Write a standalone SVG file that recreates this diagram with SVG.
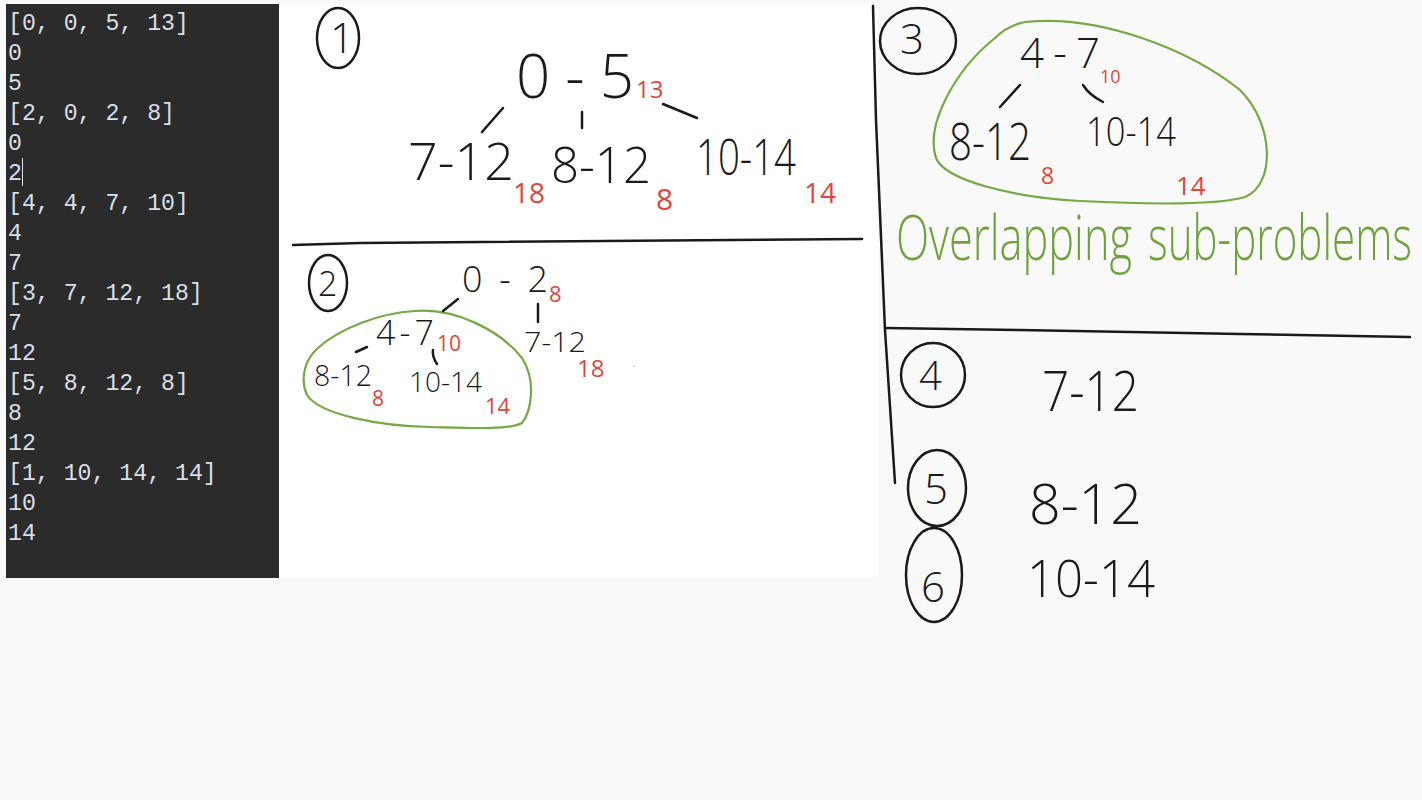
<svg xmlns="http://www.w3.org/2000/svg" width="1422" height="800" viewBox="0 0 1422 800">
<style>
.con{font-family:"Liberation Mono","DejaVu Sans Mono",monospace;font-size:23.2px;fill:#d9dfe6}
.h{font-family:"Open Sans","Liberation Sans",sans-serif;font-weight:300;fill:#1a1a1a}
.r{font-family:"Open Sans","Liberation Sans",sans-serif;font-weight:400;fill:#e0453b}
.g{font-family:"Open Sans","Liberation Sans",sans-serif;font-weight:300;fill:#6fa23c}
.ln{stroke:#1a1a1a;stroke-width:2.5;fill:none;stroke-linecap:round}
.blob{stroke:#74a944;stroke-width:2.2;fill:none}
</style>
<rect x="0" y="0" width="1422" height="800" fill="#f9f9f9"/>
<rect x="279" y="4" width="599" height="574" fill="#ffffff"/>
<g id="console">
<rect x="6" y="4" width="273" height="574" fill="#2b2b2b"/>
<text class="con" x="8" y="30">[0, 0, 5, 13]</text>
<text class="con" x="8" y="60">0</text>
<text class="con" x="8" y="90">5</text>
<text class="con" x="8" y="120">[2, 0, 2, 8]</text>
<text class="con" x="8" y="150">0</text>
<text class="con" x="8" y="180">2</text>
<line x1="22.5" y1="158" x2="22.5" y2="186" stroke="#d9dfe6" stroke-width="1"/>
<text class="con" x="8" y="210">[4, 4, 7, 10]</text>
<text class="con" x="8" y="240">4</text>
<text class="con" x="8" y="270">7</text>
<text class="con" x="8" y="300">[3, 7, 12, 18]</text>
<text class="con" x="8" y="330">7</text>
<text class="con" x="8" y="360">12</text>
<text class="con" x="8" y="390">[5, 8, 12, 8]</text>
<text class="con" x="8" y="420">8</text>
<text class="con" x="8" y="450">12</text>
<text class="con" x="8" y="480">[1, 10, 14, 14]</text>
<text class="con" x="8" y="510">10</text>
<text class="con" x="8" y="540">14</text>
</g>
<g id="dividers">
<path class="ln" d="M293,245 L360,243 L862,239"/>
<path class="ln" d="M873,6 L876,120 L885,330 L895,483"/>
<path class="ln" d="M885,328 L1020,330 L1240,334 L1410,337"/>
</g>
<g id="s1">
<ellipse class="ln" cx="338" cy="38" rx="21" ry="30"/>
<text class="h" x="330" y="53" font-size="42">1</text>
<text class="h" x="516" y="98" font-size="60" textLength="118" lengthAdjust="spacing">0-5</text>
<text class="r" x="636" y="98" font-size="24">13</text>
<text class="h" x="408" y="180" font-size="52" textLength="106" lengthAdjust="spacingAndGlyphs">7-12</text>
<text class="r" x="513" y="203" font-size="28">18</text>
<text class="h" x="551" y="183" font-size="50" textLength="100" lengthAdjust="spacingAndGlyphs">8-12</text>
<text class="r" x="656" y="210" font-size="30">8</text>
<text class="h" x="696" y="175" font-size="50" textLength="100" lengthAdjust="spacingAndGlyphs">10-14</text>
<text class="r" x="804" y="203" font-size="28">14</text>
</g>
<g id="s2">
<ellipse class="ln" cx="328" cy="283" rx="19" ry="28"/>
<text class="h" x="318" y="296" font-size="34">2</text>
<text class="h" x="462" y="292" font-size="36" textLength="86" lengthAdjust="spacing">0-2</text>
<text class="r" x="549" y="302" font-size="22">8</text>
<text class="h" x="376" y="345" font-size="34" textLength="58" lengthAdjust="spacing">4-7</text>
<text class="r" x="437" y="351" font-size="21">10</text>
<text class="h" x="524" y="352" font-size="27" textLength="62" lengthAdjust="spacingAndGlyphs">7-12</text>
<text class="r" x="577" y="377" font-size="24">18</text>
<text class="h" x="314" y="386" font-size="30" textLength="58" lengthAdjust="spacingAndGlyphs">8-12</text>
<text class="r" x="372" y="406" font-size="21">8</text>
<text class="h" x="409" y="392" font-size="28" textLength="73" lengthAdjust="spacingAndGlyphs">10-14</text>
<text class="r" x="485" y="414" font-size="22">14</text>
<path class="blob" d="M415,311 C455,308 500,330 522,358 C536,380 532,410 522,423 C510,430 470,428 430,427 C380,426 320,415 307,395 C300,380 304,360 318,348 C340,328 380,313 415,311 Z"/>
<circle cx="634" cy="366" r="0.8" fill="#bbbbbb"/>
</g>
<g id="s3">
<ellipse class="ln" cx="918" cy="41" rx="38" ry="33"/>
<text class="h" x="900" y="54" font-size="42">3</text>
<text class="h" x="1020" y="68" font-size="42" textLength="80" lengthAdjust="spacing">4-7</text>
<text class="r" x="1100" y="83" font-size="18">10</text>
<text class="h" x="949" y="160" font-size="52" textLength="82" lengthAdjust="spacingAndGlyphs">8-12</text>
<text class="r" x="1041" y="184" font-size="23">8</text>
<text class="h" x="1086" y="146" font-size="40" textLength="90" lengthAdjust="spacingAndGlyphs">10-14</text>
<text class="r" x="1176" y="195" font-size="26">14</text>
<path class="blob" d="M1025,22 C1100,14 1190,50 1240,90 C1275,125 1275,185 1245,197 C1215,206 1140,204 1080,201 C1010,197 945,180 936,158 C925,125 955,70 995,38 C1005,28 1015,24 1025,22 Z"/>
<text class="g" x="896" y="260" font-size="62" textLength="236" lengthAdjust="spacingAndGlyphs">Overlapping</text>
<text class="g" x="1148" y="260" font-size="62" textLength="264" lengthAdjust="spacingAndGlyphs">sub-problems</text>
</g>
<g id="s4">
<ellipse class="ln" cx="933" cy="375" rx="32" ry="32"/>
<text class="h" x="919" y="390" font-size="40">4</text>
<text class="h" x="1042" y="411" font-size="56" textLength="97" lengthAdjust="spacingAndGlyphs">7-12</text>
</g>
<g id="s5">
<ellipse class="ln" cx="937" cy="488" rx="29" ry="38"/>
<text class="h" x="924" y="504" font-size="42">5</text>
<text class="h" x="1029" y="524" font-size="56" textLength="113" lengthAdjust="spacingAndGlyphs">8-12</text>
</g>
<g id="s6">
<ellipse class="ln" cx="934" cy="575" rx="28" ry="47"/>
<text class="h" x="921" y="602" font-size="42">6</text>
<text class="h" x="1027" y="597" font-size="52" textLength="128" lengthAdjust="spacingAndGlyphs">10-14</text>
</g>
<g id="connectors">
<path class="ln" d="M482,132 L503,108"/>
<path class="ln" d="M582,112 L582,128"/>
<path class="ln" d="M663,104 L697,118"/>
<path class="ln" d="M443,311 L458,299"/>
<path class="ln" d="M538,304 L538,322"/>
<path class="ln" d="M356,352 L367,347"/>
<path class="ln" d="M433,350 C432,356 435,361 437,364"/>
<path class="ln" d="M1000,107 L1020,85"/>
<path class="ln" d="M1083,85 C1088,93 1095,98 1103,102"/>
</g>
</svg>
